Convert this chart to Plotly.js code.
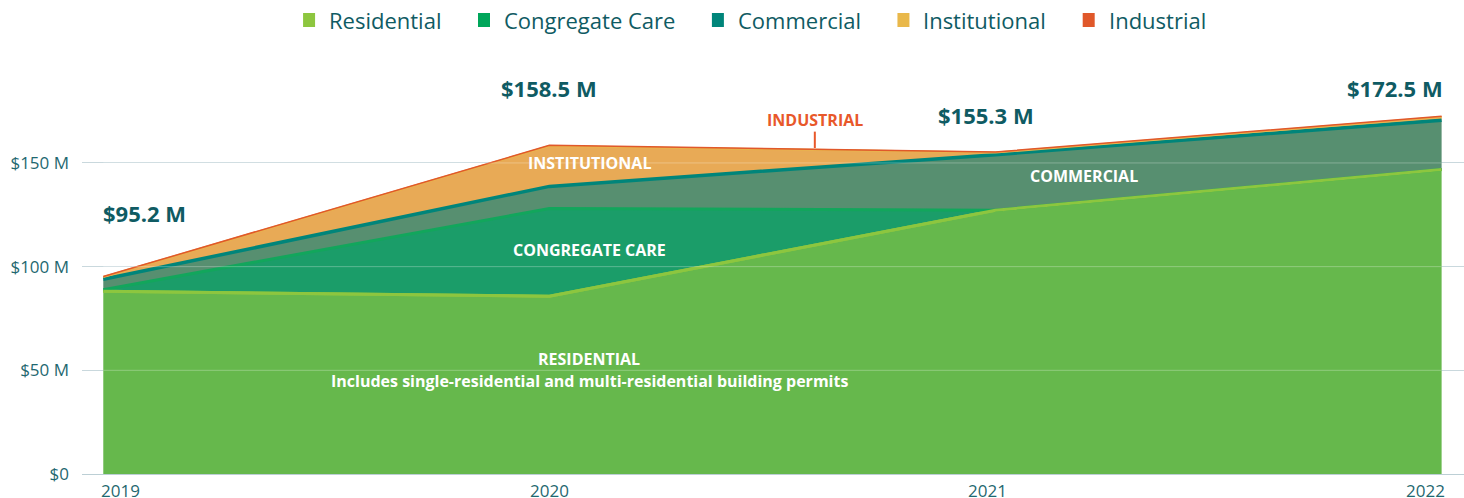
<!DOCTYPE html>
<html><head><meta charset="utf-8">
<script src="https://cdn.plot.ly/plotly-3.0.1.min.js"></script>
<style>html,body{margin:0;padding:0;background:#fff}#chart{width:1464px;height:498px}</style>
</head><body><div id="chart"></div>
<script>
// ---- data ----
const years = [2019, 2020, 2021, 2022];
const yearLabels = ['2019', '2020', '2021', '2022'];
const residential = [88.1, 85.7, 127.2, 146.8];
const congregateCare = [0.8, 42.3, 0.0, 0.0];
const commercial = [5.0, 10.7, 26.8, 23.8];
const institutional = [1.1, 19.5, 1.0, 1.6];
const industrial = [0.2, 0.3, 0.3, 0.3];
const totalLabels = ['$95.2 M', '$158.5 M', '$155.3 M', '$172.5 M'];
const seriesNames = ['Residential', 'Congregate Care', 'Commercial', 'Institutional', 'Industrial'];
const yTickVals = [0, 50, 100, 150];
const yTickText = ['$0', '$50 M', '$100 M', '$150 M'];

// ---- styles ----
const FONT = 'Open Sans, sans-serif';
const TEXT = '#0f5b63';
const legendColors = ['#8dc63f', '#00a65a', '#00857a', '#e9b84a', '#e0582a'];
const lineColors = ['#8dc63f', '#12a65c', '#00857a', '#eab44c', '#e0582a'];
const fillColors = ['#66b84c', '#1b9d69', '#578f70', '#e8aa56', '#e8a050'];
const lineWidths = [3, 3, 3.5, 2, 1.5];
const seriesValues = [residential, congregateCare, commercial, institutional, industrial];

const W = 1464, H = 498;
const M = {l: 82, r: 0, t: 80, b: 24};
const PW = W - M.l - M.r, PH = H - M.t - M.b;
const xRange = [2018.9523, 2022.0502];
const yRange = [0, 190];

const traces = seriesValues.map((vals, i) => ({
  type: 'scatter', mode: 'lines', x: years, y: vals, name: seriesNames[i],
  stackgroup: 'one', line: {color: lineColors[i], width: lineWidths[i], shape: 'linear'},
  fillcolor: fillColors[i], showlegend: false, hoverinfo: 'skip'
}));
// residential boundary line kept visible above the congregate-care edge
traces.push({
  type: 'scatter', mode: 'lines', x: years, y: residential, name: seriesNames[0] + ' edge',
  line: {color: lineColors[0], width: lineWidths[0]}, showlegend: false, hoverinfo: 'skip'
});

// cumulative totals for label placement
const totals = years.map((_, j) => seriesValues.reduce((s, v) => s + v[j], 0));

const annotations = [];
const shapes = [];

// total labels
const totalStyle = [
  {xanchor: 'left', xshift: -2, yshift: 64},
  {xanchor: 'center', xshift: 0, yshift: 57},
  {xanchor: 'center', xshift: -9.5, yshift: 37},
  {xanchor: 'right', xshift: 3, yshift: 28}
];
totalLabels.forEach((t, j) => {
  annotations.push(Object.assign({
    x: years[j], y: totals[j], xref: 'x', yref: 'y', text: t, showarrow: false,
    yanchor: 'middle', font: {family: FONT, size: 22, color: TEXT, weight: 700}
  }, totalStyle[j]));
});

// x tick labels
const xLabStyle = [
  {xanchor: 'left', xshift: -2}, {xanchor: 'center', xshift: 0},
  {xanchor: 'center', xshift: -8}, {xanchor: 'right', xshift: 3}
];
yearLabels.forEach((t, j) => {
  annotations.push(Object.assign({
    x: years[j], y: 0, xref: 'x', yref: 'paper', text: t, showarrow: false,
    yanchor: 'middle', yshift: -16, height: 14, borderpad: 0, borderwidth: 0,
    font: {family: FONT, size: 17, color: '#1f6870'}
  }, xLabStyle[j]));
});

// in-area labels
const inner = [
  {text: 'INSTITUTIONAL', x: 2020.089, y: 150.1},
  {text: 'CONGREGATE CARE', x: 2020.089, y: 108.2},
  {text: 'COMMERCIAL', x: 2021.198, y: 143.9},
  {text: 'RESIDENTIAL', x: 2020.089, y: 55.6},
  {text: 'Includes single-residential and multi-residential building permits', x: 2020.089, y: 45.0}
];
inner.forEach(a => annotations.push({
  x: a.x, y: a.y, xref: 'x', yref: 'y', text: a.text, showarrow: false,
  xanchor: 'center', yanchor: 'middle', font: {family: FONT, size: 16, color: '#ffffff', weight: 700}
}));
annotations.push({
  x: 2020.595, y: 170.9, xref: 'x', yref: 'y', text: 'INDUSTRIAL', showarrow: false,
  xanchor: 'center', yanchor: 'middle', font: {family: FONT, size: 16, color: '#e8582a', weight: 700}
});
shapes.push({type: 'line', xref: 'x', yref: 'y', x0: 2020.595, x1: 2020.595, y0: 157.2, y1: 165.1,
  line: {color: '#e8582a', width: 2}, layer: 'above'});

// gridline sheen over areas
yTickVals.slice(1).forEach(v => shapes.push({
  type: 'line', xref: 'x', yref: 'y', x0: years[0], x1: years[years.length - 1], y0: v, y1: v,
  line: {color: 'rgba(255,255,255,0.28)', width: 1}, layer: 'above'
}));

// manual legend (measured)
const cv = document.createElement('canvas').getContext('2d');
cv.font = '22px "Open Sans"';
const SQ = 12, SQGAP = 14, ITEMGAP = 36.5, LCENTER = 754.5, LY = 20;
const widths = seriesNames.map(n => cv.measureText(n).width);
const total = widths.reduce((s, w) => s + SQ + SQGAP + w, 0) + ITEMGAP * (seriesNames.length - 1);
let px = LCENTER - total / 2;
const toPX = p => (p - M.l) / PW;
const toPY = p => (H - M.b - p) / PH;
seriesNames.forEach((n, i) => {
  shapes.push({type: 'rect', xref: 'paper', yref: 'paper',
    x0: toPX(px), x1: toPX(px + SQ), y0: toPY(LY + 7), y1: toPY(LY - 7),
    fillcolor: legendColors[i], line: {width: 0}});
  annotations.push({x: toPX(px + SQ + SQGAP - 2), y: toPY(LY), xref: 'paper', yref: 'paper',
    text: n, showarrow: false, xanchor: 'left', yanchor: 'middle',
    font: {family: FONT, size: 22, color: TEXT}});
  px += SQ + SQGAP + widths[i] + ITEMGAP;
});

const layout = {
  width: W, height: H, margin: M, paper_bgcolor: '#fff', plot_bgcolor: '#fff',
  showlegend: false, hovermode: false,
  xaxis: {range: xRange, showgrid: false, zeroline: false, showticklabels: false, ticks: '', fixedrange: true},
  yaxis: {range: yRange, tickvals: yTickVals, ticktext: yTickText, showgrid: true, gridcolor: '#c9d8dd',
    gridwidth: 1, zeroline: true, zerolinecolor: '#bccfd5', zerolinewidth: 1, ticks: '', ticklabelstandoff: 12,
    tickfont: {family: FONT, size: 17, color: '#1f6870'}, fixedrange: true},
  annotations: annotations, shapes: shapes
};
Plotly.newPlot('chart', traces, layout, {displayModeBar: false, staticPlot: true});
</script></body></html>
